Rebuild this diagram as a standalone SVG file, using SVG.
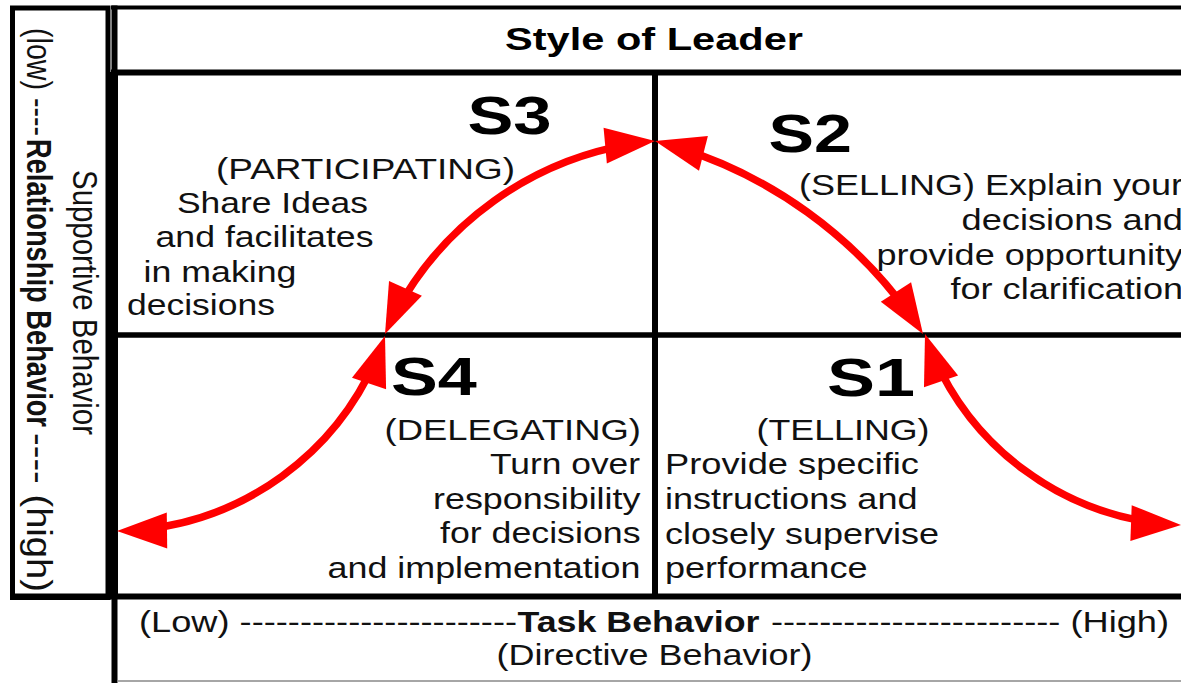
<svg xmlns="http://www.w3.org/2000/svg" width="1181" height="683" viewBox="0 0 1181 683">
<style>
.t{font-family:"Liberation Sans",Arial,Helvetica,sans-serif;font-size:30px;fill:#111;}
.b{font-weight:bold;}
.big{font-size:54px;font-weight:bold;fill:#000;}
.hdr{font-size:32px;font-weight:bold;fill:#000;}
.ln{stroke:#000;fill:none;}
.arr{stroke:#f00;stroke-width:7.5;fill:none;stroke-dasharray:0 7 86 7;marker-start:url(#ah);marker-end:url(#ah);}
</style>
<defs>
<marker id="ah" markerUnits="userSpaceOnUse" viewBox="-54 -20 56 40" markerWidth="56" markerHeight="40" refX="0" refY="0" orient="auto-start-reverse">
<path d="M0,0 L-50,-18 L-50,18 Z" fill="#f00"/>
</marker>
</defs>
<rect width="1181" height="683" fill="#fff"/>
<g id="frame">
<rect class="ln" x="12.5" y="8" width="95.5" height="589.5" stroke-width="5"/>
<line class="ln" x1="111" y1="7.5" x2="1181" y2="7.5" stroke-width="4"/>
<line class="ln" x1="114.5" y1="5.5" x2="114.5" y2="683" stroke-width="6"/>
<line class="ln" x1="114" y1="72" x2="114" y2="597" stroke-width="8"/>
<line class="ln" x1="111" y1="72.5" x2="1181" y2="72.5" stroke-width="6"/>
<line class="ln" x1="111" y1="335" x2="1181" y2="335" stroke-width="5.5"/>
<line class="ln" x1="655" y1="72" x2="655" y2="596" stroke-width="6"/>
<line class="ln" x1="10" y1="596.5" x2="1181" y2="596.5" stroke-width="6"/>
<line x1="117" y1="681" x2="1181" y2="681" stroke="#888" stroke-width="1.5"/>
</g>
<g id="connectors">
<path class="arr" pathLength="100" d="M385,336 A286.5,286.5 0 0 1 117,531"/>
<path class="arr" pathLength="100" d="M385,334 A329,329 0 0 1 655,141"/>
<path class="arr" pathLength="100" d="M655,141 A451,451 0 0 1 923,334"/>
<path class="arr" pathLength="100" d="M925,334 A281.5,281.5 0 0 0 1181,525"/>
</g>
<g id="header">
<text class="t hdr" x="505" y="50" textLength="298" lengthAdjust="spacingAndGlyphs">Style of Leader</text>
</g>
<g id="relationship-axis">
<text class="t" transform="translate(27,28) rotate(90) scale(1,1.15)" textLength="108" lengthAdjust="spacingAndGlyphs">(low) ----</text>
<text class="t b" transform="translate(27,139) rotate(90) scale(1,1.15)" textLength="288" lengthAdjust="spacingAndGlyphs">Relationship Behavior</text>
<text class="t" transform="translate(27,433) rotate(90) scale(1,1.15)" textLength="159" lengthAdjust="spacingAndGlyphs">---- (high)</text>
<text class="t" transform="translate(73,170) rotate(90) scale(1,1.15)" textLength="265" lengthAdjust="spacingAndGlyphs">Supportive Behavior</text>
</g>
<g id="s3">
<text class="t big" x="467.4" y="133.5" textLength="84.2" lengthAdjust="spacingAndGlyphs">S3</text>
<text class="t" x="216" y="179" textLength="299" lengthAdjust="spacingAndGlyphs">(PARTICIPATING)</text>
<text class="t" x="177" y="213" textLength="191" lengthAdjust="spacingAndGlyphs">Share Ideas</text>
<text class="t" x="155.5" y="247" textLength="218" lengthAdjust="spacingAndGlyphs">and facilitates</text>
<text class="t" x="143.5" y="281.5" textLength="153" lengthAdjust="spacingAndGlyphs">in making</text>
<text class="t" x="127" y="315" textLength="148" lengthAdjust="spacingAndGlyphs">decisions</text>
</g>
<g id="s2">
<text class="t big" x="768.6" y="152" textLength="83.4" lengthAdjust="spacingAndGlyphs">S2</text>
<text class="t" x="799" y="195" textLength="384" lengthAdjust="spacingAndGlyphs">(SELLING) Explain your</text>
<text class="t" x="961.5" y="230" textLength="221.5" lengthAdjust="spacingAndGlyphs">decisions and</text>
<text class="t" x="876.5" y="265" textLength="306.5" lengthAdjust="spacingAndGlyphs">provide opportunity</text>
<text class="t" x="950.5" y="298.5" textLength="232.5" lengthAdjust="spacingAndGlyphs">for clarification</text>
</g>
<g id="s4">
<text class="t big" x="391" y="395" textLength="85.8" lengthAdjust="spacingAndGlyphs">S4</text>
<text class="t" x="384.5" y="440" textLength="256.5" lengthAdjust="spacingAndGlyphs">(DELEGATING)</text>
<text class="t" x="490" y="474" textLength="150" lengthAdjust="spacingAndGlyphs">Turn over</text>
<text class="t" x="433" y="508.5" textLength="207.5" lengthAdjust="spacingAndGlyphs">responsibility</text>
<text class="t" x="440" y="543" textLength="200.5" lengthAdjust="spacingAndGlyphs">for decisions</text>
<text class="t" x="327.5" y="577.5" textLength="313" lengthAdjust="spacingAndGlyphs">and implementation</text>
</g>
<g id="s1">
<text class="t big" x="827" y="396" textLength="88" lengthAdjust="spacingAndGlyphs">S1</text>
<text class="t" x="756.5" y="440" textLength="173" lengthAdjust="spacingAndGlyphs">(TELLING)</text>
<text class="t" x="665" y="474" textLength="254" lengthAdjust="spacingAndGlyphs">Provide specific</text>
<text class="t" x="665" y="509" textLength="252.5" lengthAdjust="spacingAndGlyphs">instructions and</text>
<text class="t" x="665" y="543.5" textLength="274" lengthAdjust="spacingAndGlyphs">closely supervise</text>
<text class="t" x="665" y="577.5" textLength="202.5" lengthAdjust="spacingAndGlyphs">performance</text>
</g>
<g id="task-axis">
<text class="t" x="139" y="632" textLength="378" lengthAdjust="spacingAndGlyphs">(Low) -----------------------</text>
<text class="t b" x="517.5" y="632" textLength="242" lengthAdjust="spacingAndGlyphs">Task Behavior</text>
<text class="t" x="771" y="632" textLength="398" lengthAdjust="spacingAndGlyphs">------------------------ (High)</text>
<text class="t" x="496.5" y="665" textLength="316" lengthAdjust="spacingAndGlyphs">(Directive Behavior)</text>
</g>
</svg>
